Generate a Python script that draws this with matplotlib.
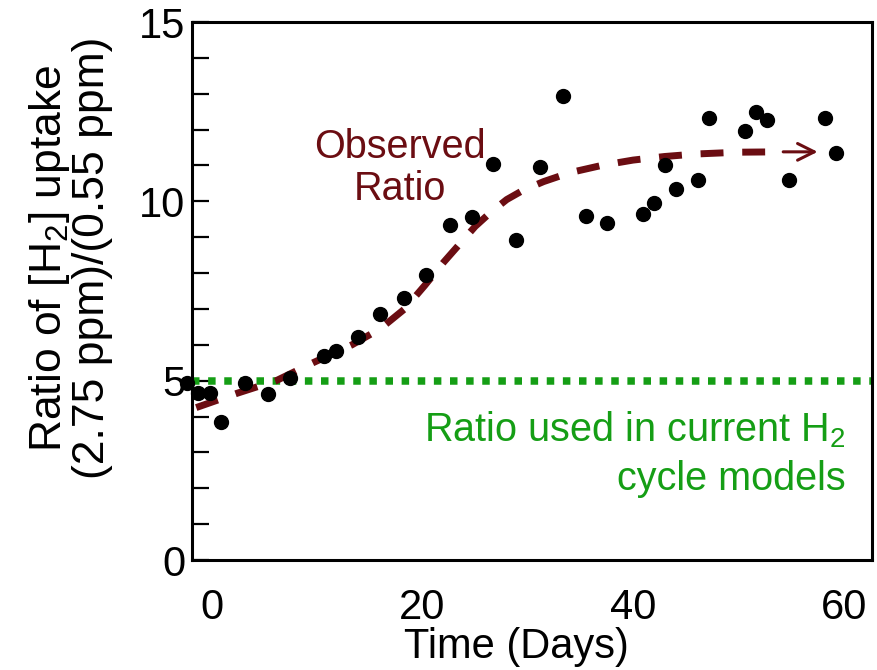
import matplotlib
matplotlib.use('Agg')
import matplotlib.pyplot as plt
import numpy as np

plt.rcParams['font.family'] = ['Liberation Sans', 'DejaVu Sans']
plt.rcParams['mathtext.fontset'] = 'custom'
plt.rcParams['mathtext.rm'] = 'Liberation Sans'
plt.rcParams['mathtext.it'] = 'Liberation Sans:italic'

# observed ratio points (days, ratio)
days = [-2.4, -1.3, -0.2, 0.9, 3.1, 5.3, 7.4, 10.6, 11.8, 13.9, 16.0, 18.2,
        20.3, 22.6, 24.7, 26.7, 28.9, 31.2, 33.3, 35.5, 37.5, 40.9, 42.0,
        43.0, 44.1, 46.2, 47.2, 50.6, 51.7, 52.7, 54.8, 58.2, 59.3]
ratio = [4.93, 4.67, 4.65, 3.84, 4.94, 4.63, 5.08, 5.69, 5.83, 6.21, 6.86, 7.30,
         7.95, 9.34, 9.55, 11.03, 8.92, 10.96, 12.94, 9.60, 9.39, 9.65, 9.96,
         11.01, 10.33, 10.59, 12.33, 11.96, 12.48, 12.27, 10.59, 12.33, 11.34]

# fitted trend (dashed)
fit_days = [-1.5, 2.4, 6.1, 9.6, 13.3, 16.0, 18.3, 20.2, 22.0, 23.5, 25.0, 26.5,
            28.0, 29.5, 31.5, 34.0, 37.0, 40.0, 43.0, 46.0, 50.0, 54.0, 57.8]
fit_ratio = [4.25, 4.65, 5.0, 5.5, 6.0, 6.45, 7.0, 7.65, 8.3, 8.8, 9.3, 9.7,
             10.05, 10.3, 10.55, 10.8, 11.0, 11.15, 11.25, 11.32, 11.37, 11.38, 11.38]

model_ratio = 5.0

red = '#6b0d12'
green = '#159e15'

fig = plt.figure(figsize=(8.78, 6.70), dpi=100)
ax = fig.add_axes([192/878, 1 - 560/670, 680/878, 538/670])

ax.axhline(model_ratio, color=green, lw=5.4, linestyle=(0, (1.0, 1.15)),
           dash_capstyle='butt', zorder=2)
ax.plot(fit_days[:-1], fit_ratio[:-1], color=red, lw=5.0,
        linestyle=(0, (3.3, 2.7)), zorder=3)
ax.annotate('', xy=(fit_days[-1], fit_ratio[-1]), xytext=(fit_days[-2], fit_ratio[-2]),
            arrowprops=dict(arrowstyle='->', color=red, lw=2.2, mutation_scale=30))
ax.scatter(days, ratio, s=100, color='black', zorder=4, clip_on=False)

ax.text(17.9, 10.93, 'Observed\nRatio', color=red, fontsize=28.5, ha='center',
        va='center', linespacing=1.15)
ax.text(60.2, 2.97, 'Ratio used in current H$_2$\ncycle models', color=green,
        fontsize=28.5, ha='right', va='center', multialignment='right', linespacing=1.35)

ax.set_xlim(-1.9, 62.7)
ax.set_ylim(0, 15)
ax.set_xticks([0, 20, 40, 60])
ax.set_xticks([20, 40], minor=True)
ax.set_yticks([0, 5, 10, 15])
ax.set_yticks(np.arange(0, 16, 1), minor=True)
ax.tick_params(axis='x', which='major', length=0, pad=20, labelsize=30)
ax.tick_params(axis='x', which='minor', direction='in', length=9, width=1.8)
ax.tick_params(axis='y', which='major', direction='in', length=12, width=1.6,
               pad=5, labelsize=30)
ax.tick_params(axis='y', which='minor', direction='in', length=12, width=1.6)
for s in ax.spines.values():
    s.set_linewidth(2.2)

ax.set_xlabel('Time (Days)', fontsize=30)
ax.xaxis.set_label_coords((516 - 192) / 680, -0.125)
fig.text(70/878, 1 - 258/670, 'Ratio of [H$_2$] uptake\n(2.75 ppm)/(0.55 ppm)',
         rotation=90, ha='center', va='center', fontsize=32, linespacing=1.0,
         multialignment='center')

fig.savefig('out.png', dpi=100)
